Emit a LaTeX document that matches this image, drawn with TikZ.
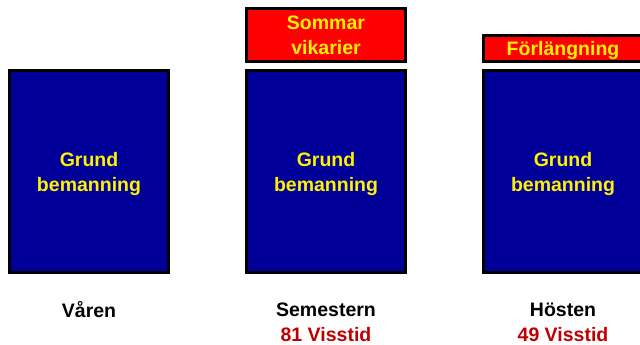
\documentclass[tikz,border=0pt]{standalone}
\usepackage{fontspec}
\setmainfont{Liberation Sans}
\usetikzlibrary{positioning}
\definecolor{navy}{RGB}{0,0,153}
\definecolor{labelred}{RGB}{192,0,0}

\begin{document}
\begin{tikzpicture}[x=1pt,y=1pt,font=\bfseries\fontsize{19.5}{25}\selectfont]
      \tikzstyle{base}=[rectangle,draw=black,line width=3pt,fill=navy,text=yellow,
        minimum width=159pt,minimum height=202pt,inner sep=0pt,align=center,text depth=-2pt]
      \tikzstyle{extra}=[rectangle,draw=black,line width=3pt,fill=red,text=yellow,
        minimum width=159pt,inner sep=0pt,align=center]
      \tikzstyle{season}=[text=black,inner sep=0pt]
      \tikzstyle{count}=[text=labelred,inner sep=0pt]
      \clip (0,0) rectangle (640,345);
      \node[base] (b_1) at (89,173.5) {Grund\\bemanning};
      \node[base] (b_2) at (326,173.5) {Grund\\bemanning};
      \node[base] (b_3) at (563,173.5) {Grund\\bemanning};
      \node[extra,minimum height=53pt] (e_2) at (326,310) {Sommar\\vikarier};
      \node[extra,minimum height=26pt,text depth=0pt] (e_3) at (563,296.5) {Förlängning};
      \node[season] (s_1) at (89,35) {Våren};
      \node[season] (s_2) at (326,35) {Semestern};
      \node[season] (s_3) at (563,35) {Hösten};
      \node[count] (c_2) at (326,10) {81 Visstid};
      \node[count] (c_3) at (563,10) {49 Visstid};
    \end{tikzpicture}
\end{document}
